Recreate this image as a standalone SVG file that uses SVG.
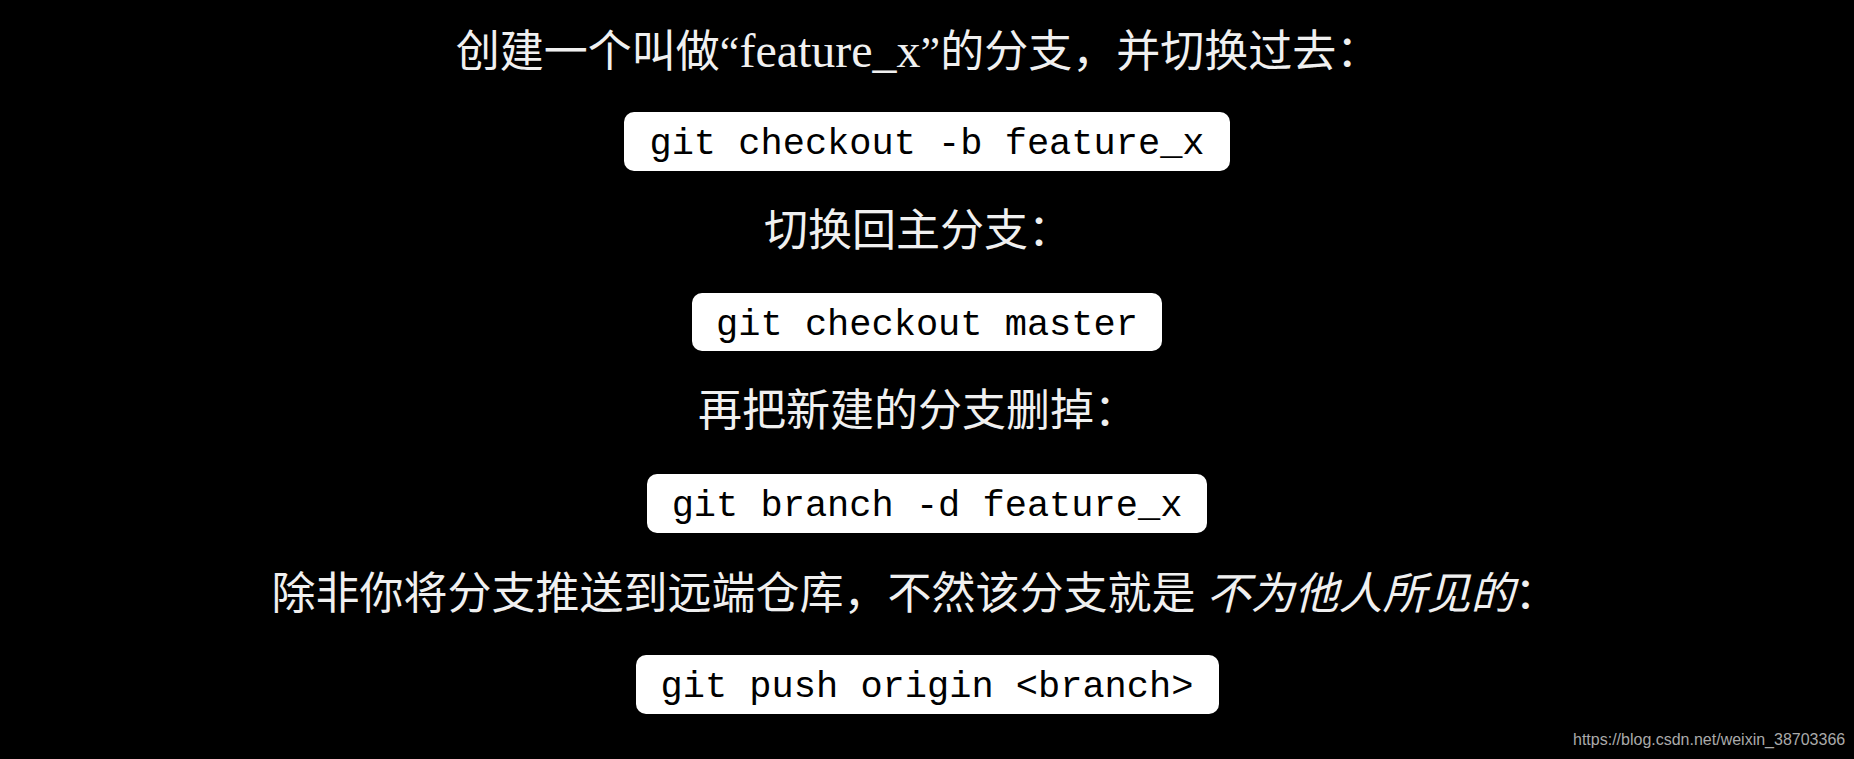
<svg xmlns="http://www.w3.org/2000/svg" width="1854" height="759" viewBox="0 0 1854 759">
<style>
.t{font-family:"Liberation Serif","Noto Sans CJK SC",serif;font-size:44px;fill:#f0f0f0;text-anchor:middle}
.b{fill:#fff}
.c{font-family:"Liberation Mono","DejaVu Sans Mono",monospace;font-size:37px;fill:#000;text-anchor:middle}
.w{font-family:"Liberation Sans",sans-serif;font-size:16px;fill:#aaa}
</style>
<rect width="1854" height="759" fill="#000"/>
<g id="line1"><text class="t" x="918" y="67">创建一个叫做“<tspan font-size="48">feature_x</tspan>”的分支，并切换过去：</text></g>
<g id="cmd1"><rect class="b" x="624" y="112" width="606" height="59" rx="10"/><text class="c" x="927" y="154">git checkout -b feature_x</text></g>
<g id="line2"><text class="t" x="918" y="246">切换回主分支：</text></g>
<g id="cmd2"><rect class="b" x="692" y="293" width="470" height="58" rx="10"/><text class="c" x="927" y="335">git checkout master</text></g>
<g id="line3"><text class="t" x="918" y="426">再把新建的分支删掉：</text></g>
<g id="cmd3"><rect class="b" x="647" y="474" width="560" height="59" rx="10"/><text class="c" x="927" y="516">git branch -d feature_x</text></g>
<g id="line4"><text class="t" x="915" y="609">除非你将分支推送到远端仓库，不然该分支就是 <tspan font-style="italic">不为他人所见的</tspan>：</text></g>
<g id="cmd4"><rect class="b" x="636" y="655" width="583" height="59" rx="10"/><text class="c" x="927" y="697">git push origin &lt;branch&gt;</text></g>
<g id="connectors"/>
<text class="w" x="1573" y="745">https://blog.csdn.net/weixin_38703366</text>
</svg>
